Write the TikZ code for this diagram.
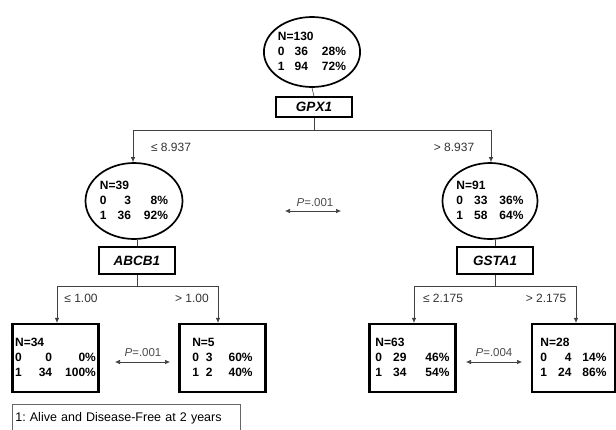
\documentclass[tikz,border=0pt]{standalone}
\usepackage{fontspec}
\setmainfont{Liberation Sans}
\usetikzlibrary{shapes.geometric,arrows.meta}
\frenchspacing
\newcommand{\stattab}[4]{\begin{tabular}{@{}l@{\hspace{#1pt}}r@{\hspace{#2pt}}r@{}}\multicolumn{3}{@{}l@{}}{N=#3}\\#4\end{tabular}}
\tikzset{
  statfont/.style={font=\fontsize{12}{15}\selectfont\bfseries},
  ell/.style={ellipse, draw, line width=1.7pt, inner sep=0pt, statfont},
  leaf/.style={rectangle, draw, line width=2.2pt, minimum width=86pt, minimum height=68pt, inner sep=0pt, statfont},
  gene/.style={rectangle, draw, line width=1.3pt, minimum width=76pt, inner sep=0pt, font=\fontsize{13.5}{15}\selectfont\bfseries\itshape},
  conn/.style={draw=black!75, line width=0.6pt},
  arr/.style={conn, -{Latex[length=5pt,width=4.5pt]}},
  darr/.style={conn, {Latex[length=5pt,width=4.5pt]}-{Latex[length=5pt,width=4.5pt]}},
  cut/.style={font=\fontsize{12}{14}\selectfont, text=black!80, inner sep=0pt},
  pval/.style={font=\fontsize{11.5}{13}\selectfont, text=black!70, inner sep=0pt},
}
\begin{document}
\begin{tikzpicture}[x=1pt,y=-1pt]
\useasboundingbox (0,0) rectangle (616,429);
% nodes
\node[ell, minimum width=86pt, minimum height=70pt] (root) at (312,52) {\stattab{10}{14}{130}{0&36&28\%\\1&94&72\%}};
\node[gene, minimum height=20pt] (gpx) at (314,107) {GPX1};
\node[ell, minimum width=97pt, minimum height=76pt] (L) at (134,201) {\stattab{11}{13}{39}{0&3&8\%\\1&36&92\%}};
\node[ell, minimum width=95pt, minimum height=76pt] (R) at (490,201) {\stattab{11}{12}{91}{0&33&36\%\\1&58&64\%}};
\node[gene, minimum height=27pt] (abcb) at (137,260.5) {ABCB1};
\node[gene, minimum height=27pt] (gsta) at (495,260.5) {GSTA1};
\node[leaf] (n34) at (55.5,358) {\stattab{17}{13}{34}{0&0&0\%\\1&34&100\%}};
\node[leaf] (n5) at (222.5,358) {\stattab{7}{16}{5}{0&3&60\%\\1&2&40\%}};
\node[leaf] (n63) at (412.5,358) {\stattab{11}{19}{63}{0&29&46\%\\1&34&54\%}};
\node[leaf, minimum width=83pt] (n28) at (573.5,358) {\stattab{11}{11}{28}{0&4&14\%\\1&24&86\%}};
% split coordinates
\coordinate (s0) at (314,130);
\coordinate (s0l) at (133,130);
\coordinate (s0r) at (491,130);
\coordinate (s1) at (137,286);
\coordinate (s1l) at (57,286);
\coordinate (s1r) at (218,286);
\coordinate (s2) at (495,286);
\coordinate (s2l) at (414,286);
\coordinate (s2r) at (576,286);
% connectors
\draw[conn] (root.south) -- (gpx.north);
\draw[conn] (gpx.south) -- (s0);
\draw[conn] (s0l) -- (s0r);
\draw[arr] (s0l) -- (s0l |- L.north);
\draw[arr] (s0r) -- (s0r |- R.north);
\draw[conn] (abcb.north |- L.south) -- (abcb.north);
\draw[conn] (gsta.north |- R.south) -- (gsta.north);
\draw[conn] (abcb.south) -- (s1);
\draw[conn] (gsta.south) -- (s2);
\draw[conn] (s1l) -- (s1r);
\draw[conn] (s2l) -- (s2r);
\draw[arr] (s1l) -- (s1l |- n34.north);
\draw[arr] (s1r) -- (s1r |- n5.north);
\draw[arr] (s2l) -- (s2l |- n63.north);
\draw[arr] (s2r) -- (s2r |- n28.north);
% cut labels
\node[cut] (c1) at (171,147) {≤ 8.937};
\node[cut] (c2) at (454,147) {> 8.937};
\node[cut] (c3) at (81,298) {≤ 1.00};
\node[cut] (c4) at (192,298) {> 1.00};
\node[cut] (c5) at (443,298) {≤ 2.175};
\node[cut] (c6) at (546,298) {> 2.175};
% p-values
\coordinate (pa1) at (285,211);
\coordinate (pa2) at (341,211);
\draw[darr] (pa1) -- (pa2);
\node[pval] (p1) at (315,203) {\textit{P}=.001};
\coordinate (pb1) at (115,362);
\coordinate (pb2) at (170,362);
\draw[darr] (pb1) -- (pb2);
\node[pval] (p2) at (143,353) {\textit{P}=.001};
\coordinate (pc1) at (466,362);
\coordinate (pc2) at (522,362);
\draw[darr] (pc1) -- (pc2);
\node[pval] (p3) at (494,353) {\textit{P}=.004};
% legend
\node[draw=black!60, line width=0.6pt, anchor=north west, minimum width=228pt, inner xsep=3pt, inner ysep=0pt, text height=17pt, text depth=16pt, font=\fontsize{12.5}{14}\selectfont, align=left, text width=222pt] (legend) at (12,404) {1: Alive and Disease-Free at 2 years};
\end{tikzpicture}
\end{document}
